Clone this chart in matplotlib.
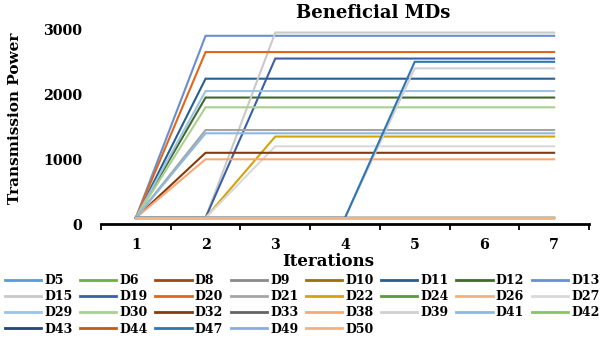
import matplotlib
matplotlib.use("Agg")
import matplotlib.pyplot as plt
from matplotlib.ticker import FixedLocator, NullFormatter

# Iterations on the x axis
iterations = [1, 2, 3, 4, 5, 6, 7]

# Transmission power of each mobile device per iteration
d5 = [100, 100, 100, 100, 100, 100, 100]
d6 = [100, 100, 100, 100, 100, 100, 100]
d8 = [100, 100, 100, 100, 100, 100, 100]
d9 = [100, 100, 100, 100, 100, 100, 100]
d10 = [100, 100, 100, 100, 100, 100, 100]
d11 = [100, 2240, 2240, 2240, 2240, 2240, 2240]
d12 = [100, 1950, 1950, 1950, 1950, 1950, 1950]
d13 = [100, 2900, 2900, 2900, 2900, 2900, 2900]
d15 = [100, 100, 2950, 2950, 2950, 2950, 2950]
d19 = [100, 100, 2550, 2550, 2550, 2550, 2550]
d20 = [100, 2650, 2650, 2650, 2650, 2650, 2650]
d21 = [100, 1450, 1450, 1450, 1450, 1450, 1450]
d22 = [100, 100, 1350, 1350, 1350, 1350, 1350]
d24 = [100, 100, 100, 100, 100, 100, 100]
d26 = [100, 100, 100, 100, 100, 100, 100]
d27 = [100, 100, 1200, 1200, 1200, 1200, 1200]
d29 = [100, 2050, 2050, 2050, 2050, 2050, 2050]
d30 = [100, 1800, 1800, 1800, 1800, 1800, 1800]
d32 = [100, 1100, 1100, 1100, 1100, 1100, 1100]
d33 = [100, 100, 100, 100, 100, 100, 100]
d38 = [100, 1000, 1000, 1000, 1000, 1000, 1000]
d39 = [100, 100, 100, 100, 2400, 2400, 2400]
d41 = [100, 1400, 1400, 1400, 1400, 1400, 1400]
d42 = [100, 100, 100, 100, 100, 100, 100]
d43 = [100, 100, 100, 100, 100, 100, 100]
d44 = [100, 100, 100, 100, 100, 100, 100]
d47 = [100, 100, 100, 100, 2500, 2500, 2500]
d49 = [100, 100, 100, 100, 100, 100, 100]
d50 = [100, 100, 100, 100, 100, 100, 100]

labels = ["D5", "D6", "D8", "D9", "D10", "D11", "D12", "D13",
          "D15", "D19", "D20", "D21", "D22", "D24", "D26", "D27",
          "D29", "D30", "D32", "D33", "D38", "D39", "D41", "D42",
          "D43", "D44", "D47", "D49", "D50"]
values = [d5, d6, d8, d9, d10, d11, d12, d13,
          d15, d19, d20, d21, d22, d24, d26, d27,
          d29, d30, d32, d33, d38, d39, d41, d42,
          d43, d44, d47, d49, d50]
colors = ["#5B9BD5", "#70AD47", "#9E480E", "#8A8A8A", "#997300", "#255E91", "#43682B", "#698ED0",
          "#C9C9C9", "#3A5FA8", "#E0661A", "#A5A5A5", "#D4A20A", "#5A9A3A", "#F4B183", "#D9D9D9",
          "#9DC3E6", "#A9D18E", "#843C0C", "#636363", "#F8A878", "#D0D0D0", "#8DB8E2", "#8CC168",
          "#264478", "#C55A11", "#2E75B6", "#8FAADC", "#F4B183"]

FONT = "DejaVu Serif"
NCOL = 8

fig = plt.figure(figsize=(6.03, 3.42), dpi=100)
ax = fig.add_axes([101 / 603, 1 - 224.3 / 342, 488 / 603, 201.5 / 342])

handles = []
for name, vals, col in zip(labels, values, colors):
    h, = ax.plot(iterations, vals, color=col, lw=1.5, label=name, clip_on=False,
                 solid_joinstyle="miter")
    handles.append(h)

ax.set_xlim(0.5, 7.5)
ax.set_ylim(0, 3100)
ax.set_yticks([0, 1000, 2000, 3000])
ax.set_xticks(iterations)
ax.xaxis.set_minor_locator(FixedLocator([0.5 + i for i in range(8)]))
ax.xaxis.set_minor_formatter(NullFormatter())

for s in ["top", "right", "left"]:
    ax.spines[s].set_visible(False)
ax.spines["bottom"].set_linewidth(2.0)
ax.spines["bottom"].set_color("black")

ax.tick_params(axis="x", which="major", length=0, pad=10)
ax.tick_params(axis="x", which="minor", length=4, width=1.3, direction="out", color="black")
ax.tick_params(axis="y", length=0, pad=13.5)
for lab in ax.get_xticklabels() + ax.get_yticklabels():
    lab.set_fontfamily(FONT)
    lab.set_fontweight("bold")
    lab.set_fontsize(10.3)

fig.text(373 / 603, 1 - 13 / 342, "Beneficial MDs", ha="center", va="center",
         fontfamily=FONT, fontweight="bold", fontsize=13)
fig.text(15 / 603, 1 - 118 / 342, "Transmission Power", ha="center", va="center",
         rotation=90, fontfamily=FONT, fontweight="bold", fontsize=11)
fig.text(328 / 603, 1 - 262 / 342, "Iterations", ha="center", va="center",
         fontfamily=FONT, fontweight="bold", fontsize=12)

# legend entries are listed row by row, matplotlib fills column by column
order = [r * NCOL + c for c in range(NCOL) for r in range(4) if r * NCOL + c < len(handles)]
leg = fig.legend([handles[i] for i in order], [labels[i] for i in order],
                 loc="upper left", bbox_to_anchor=(5 / 603, 1 - 274 / 342),
                 ncol=NCOL, frameon=False, borderpad=0, borderaxespad=0,
                 handlelength=2.9, handletextpad=0.25, columnspacing=0.6,
                 labelspacing=0.26,
                 prop={"family": FONT, "weight": "bold", "size": 9.0})
for line in leg.get_lines():
    line.set_linewidth(2.0)

fig.savefig("out.png", dpi=100)
